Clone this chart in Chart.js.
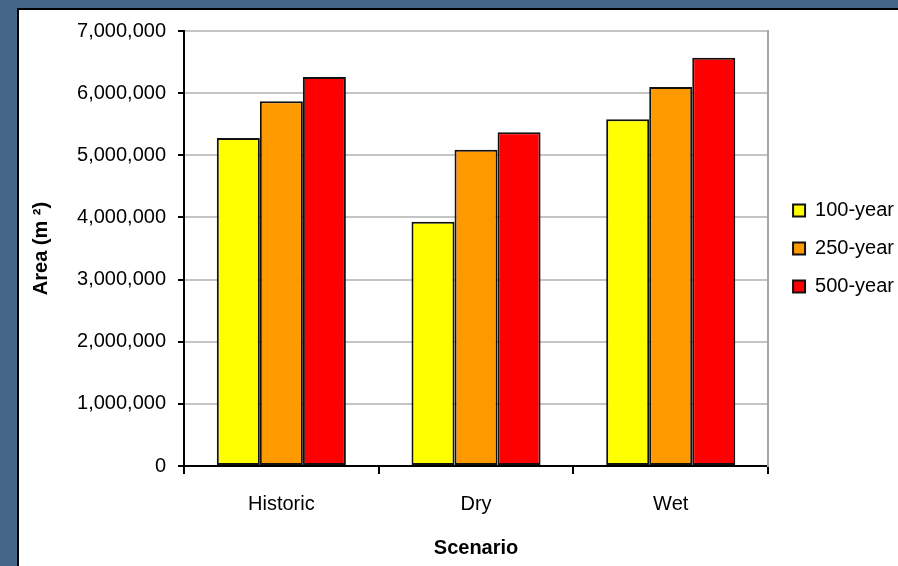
<!DOCTYPE html>
<html>
<head>
<meta charset="utf-8">
<script src="https://cdn.jsdelivr.net/npm/chart.js@4/dist/chart.umd.min.js"></script>
<style>
  html, body { margin: 0; padding: 0; width: 898px; height: 566px; overflow: hidden; background: #456788; }
  #panel {
    position: absolute; left: 17px; top: 8px; width: 900px; height: 557px;
    background: #fff; border-left: 2px solid #000; border-top: 2px solid #000;
    border-bottom: 1px solid #c8c8c8; overflow: hidden;
  }
  #wrap { position: absolute; left: 0; top: 0; width: 890px; height: 555px; }
</style>
</head>
<body>
<div id="panel"><div id="wrap"><canvas id="chart"></canvas></div></div>
<script>
// Flooded area by climate scenario and return period
const scenarios = ['Historic', 'Dry', 'Wet'];
const seriesNames = ['100-year', '250-year', '500-year'];
const area100 = [5280000, 3930000, 5580000];
const area250 = [5870000, 5090000, 6100000];
const area500 = [6260000, 5370000, 6570000];
const yTicks = [0, 1000000, 2000000, 3000000, 4000000, 5000000, 6000000, 7000000];

const colors = ['#FFFF00', '#FF9900', '#FF0000'];
const FONT = '"Liberation Sans", Arial, sans-serif';

Chart.defaults.font.family = FONT;
Chart.defaults.color = '#000';

const series = [area100, area250, area500];
const datasets = seriesNames.map((name, i) => ({
  label: name,
  data: series[i],
  backgroundColor: colors[i],
  borderColor: '#111',
  borderWidth: 2,
  borderSkipped: false,
  barPercentage: 1.0,
  categoryPercentage: 0.663
}));

new Chart(document.getElementById('chart'), {
  type: 'bar',
  data: { labels: scenarios, datasets },
  options: {
    responsive: true,
    maintainAspectRatio: false,
    animation: false,
    layout: { padding: { top: 21, right: 5, bottom: 0, left: 0 } },
    plugins: {
      tooltip: { enabled: false },
      legend: {
        position: 'right',
        fullSize: false,
        labels: {
          boxWidth: 12,
          boxHeight: 12,
          padding: 18,
          color: '#000',
          font: { size: 20 },
          generateLabels: (chart) => chart.data.datasets.map((ds, i) => ({
            text: ds.label,
            fillStyle: ds.backgroundColor,
            strokeStyle: '#111',
            lineWidth: 2,
            datasetIndex: i
          }))
        }
      }
    },
    scales: {
      x: {
        grid: { drawOnChartArea: false, tickColor: '#000', tickLength: 8, lineWidth: 2, offset: true },
        border: { color: '#000', width: 2 },
        ticks: { font: { size: 20 }, padding: 18, color: '#000' },
        title: { display: true, text: 'Scenario', font: { size: 20, weight: 'bold' }, padding: { top: 0, bottom: 5 }, color: '#000' },
        afterFit: (s) => { s.height = 99; }
      },
      y: {
        min: 0,
        max: 7000000,
        afterBuildTicks: (s) => { s.ticks = yTicks.map(v => ({ value: v })); },
        grid: { color: '#c4c4c4', lineWidth: 2, tickColor: '#000', tickLength: 6 },
        border: { color: '#000', width: 2 },
        ticks: {
          font: { size: 20 },
          padding: 12,
          color: '#000',
          callback: (v) => Number(v).toLocaleString('en-US')
        },
        title: { display: true, text: 'Area (m ²)', font: { size: 20, weight: 'bold' }, padding: { top: 10, bottom: 0 }, color: '#000' },
        afterFit: (s) => { s.width = 165; s.paddingTop = 12; s.paddingBottom = 12; }
      },
      // right-hand frame of the plot area
      frame: {
        position: 'right',
        display: true,
        grid: { display: false, drawTicks: false },
        ticks: { display: false },
        border: { color: '#a6a6a6', width: 2 },
        afterFit: (s) => { s.width = 7; }
      }
    }
  }
});
</script>
</body>
</html>
